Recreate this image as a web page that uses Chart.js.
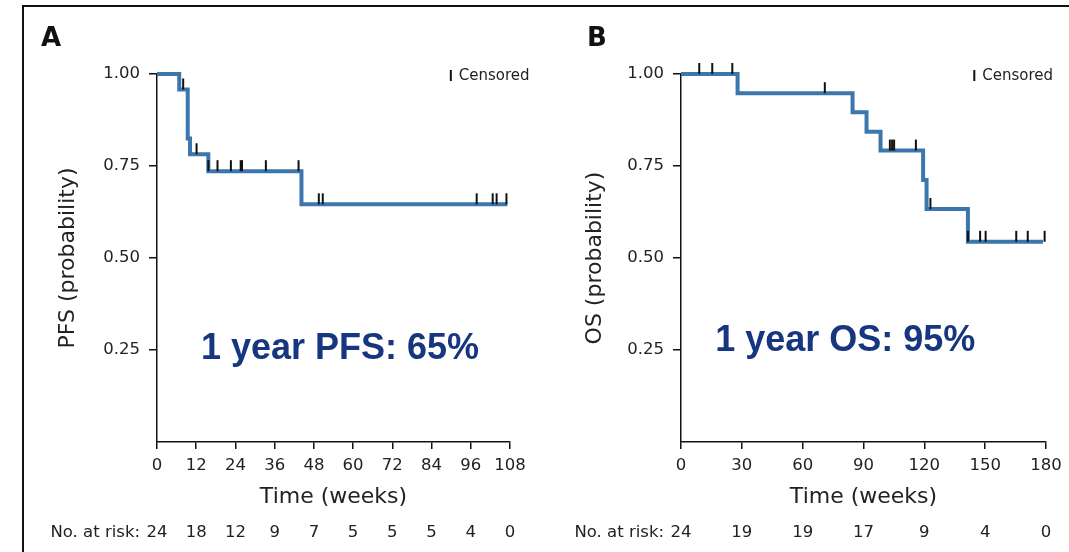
<!DOCTYPE html>
<html>
<head>
<meta charset="utf-8">
<script src="https://cdn.jsdelivr.net/npm/chart.js@4"></script>
<style>
  body { margin: 0; background: #fff; }
  #wrap { position: relative; width: 1069px; height: 552px; overflow: hidden; }
  #frame { position: absolute; left: 22px; top: 5px; width: 1200px; height: 700px;
           border-top: 2px solid #111; border-left: 2px solid #111; }
  canvas { position: absolute; top: 0; }
  #chartA { left: 0; }
  #chartB { left: 545px; }
</style>
</head>
<body>
<div id="wrap">
  <div id="frame"></div>
  <canvas id="chartA" width="545" height="552"></canvas>
  <canvas id="chartB" width="524" height="552"></canvas>
</div>
<script>
// Panel A - progression free survival
const pfsTimes = [0, 6.8, 9.4, 10.1, 15.7, 44.2, 107.2];
const pfsSurv = [1.0, 0.958, 0.825, 0.782, 0.736, 0.646, 0.646];
const pfsCensorTimes = [8.0, 12.1, 15.7, 18.5, 22.6, 25.6, 26.0, 33.3, 43.3, 49.5, 50.7, 97.8, 102.7, 103.9, 106.9];
const pfsCensorSurv = [0.958, 0.782, 0.736, 0.736, 0.736, 0.736, 0.736, 0.736, 0.736, 0.646, 0.646, 0.646, 0.646, 0.646, 0.646];
const pfsTicks = [0, 12, 24, 36, 48, 60, 72, 84, 96, 108];
const pfsAtRisk = [24, 18, 12, 9, 7, 5, 5, 5, 4, 0];

// Panel B - overall survival
const osTimes = [0, 27.9, 84.6, 91.5, 98.4, 119.4, 121.1, 141.5, 178.5];
const osSurv = [1.0, 0.948, 0.896, 0.843, 0.792, 0.712, 0.633, 0.544, 0.544];
const osCensorTimes = [9.0, 15.4, 25.3, 70.9, 103.0, 104.1, 105.1, 115.8, 123.0, 141.5, 147.5, 150.2, 165.3, 171.0, 179.3];
const osCensorSurv = [1.0, 1.0, 1.0, 0.948, 0.792, 0.792, 0.792, 0.792, 0.633, 0.544, 0.544, 0.544, 0.544, 0.544, 0.544];
const osTicks = [0, 30, 60, 90, 120, 150, 180];
const osAtRisk = [24, 19, 19, 17, 9, 4, 0];

const yTicks = [0.25, 0.5, 0.75, 1.0];

const curveColor = '#3b77ad';
const noteColor = '#16377f';
const axisFont = 'DejaVu Sans';

function censorMark() {
    const c = document.createElement('canvas');
    c.width = 4;
    c.height = 24;
    const g = c.getContext('2d');
    g.fillStyle = '#111';
    g.fillRect(1, 1, 2, 11);
    return c;
}

const extras = {
    id: 'extras',
    afterDraw(chart, args, opts) {
        const ctx = chart.ctx;
        const xs = chart.scales.x;
        const ys = chart.scales.y;
        const area = chart.chartArea;
        ctx.save();

        // panel letter
        ctx.fillStyle = '#111';
        ctx.font = 'bold 26px "DejaVu Sans"';
        ctx.textAlign = 'center';
        ctx.textBaseline = 'middle';
        ctx.fillText(opts.letter, opts.letterX, 39);

        // censored legend
        ctx.font = '15px "DejaVu Sans"';
        ctx.textAlign = 'right';
        ctx.fillStyle = '#222';
        ctx.fillText('Censored', xs.getPixelForValue(opts.legendX), area.top + 2);
        const w = ctx.measureText('Censored').width;
        ctx.fillStyle = '#111';
        ctx.fillRect(xs.getPixelForValue(opts.legendX) - w - 9, area.top - 4, 2, 11);

        // 1 year note
        ctx.font = 'bold 36px "Liberation Sans"';
        ctx.fillStyle = noteColor;
        ctx.textAlign = 'center';
        ctx.fillText(opts.note, xs.getPixelForValue(opts.noteX), ys.getPixelForValue(opts.noteY));

        // number at risk
        ctx.font = '16.5px "DejaVu Sans"';
        ctx.fillStyle = '#222';
        ctx.textAlign = 'right';
        ctx.fillText('No. at risk:', area.left - 17, 533);
        ctx.textAlign = 'center';
        opts.riskTimes.forEach((t, i) => {
            ctx.fillText(String(opts.risk[i]), xs.getPixelForValue(t), 533);
        });
        ctx.restore();
    }
};

function makeChart(id, c) {
    const curve = c.times.map((t, i) => ({ x: t, y: c.surv[i] }));
    const censors = c.censorTimes.map((t, i) => ({ x: t, y: c.censorSurv[i] }));
    return new Chart(document.getElementById(id), {
        type: 'scatter',
        data: {
            datasets: [{
                data: censors,
                pointStyle: censorMark(),
                pointRadius: 6,
                showLine: false,
                clip: false,
                order: 0
            }, {
                type: 'line',
                data: curve,
                borderColor: curveColor,
                borderWidth: 4,
                stepped: 'before',
                pointRadius: 0,
                fill: false,
                clip: false,
                order: 1
            }]
        },
        options: {
            responsive: false,
            animation: false,
            devicePixelRatio: 1,
            events: [],
            layout: { padding: { left: 0, top: 74, right: c.padRight, bottom: 0 } },
            plugins: {
                legend: { display: false },
                tooltip: { enabled: false },
                extras: c.extras
            },
            scales: {
                x: {
                    type: 'linear',
                    min: 0,
                    max: c.ticks[c.ticks.length - 1],
                    afterBuildTicks: s => { s.ticks = c.ticks.map(v => ({ value: v })); },
                    afterFit: s => { s.height = 110; },
                    grid: { drawOnChartArea: false, tickLength: 7, color: '#111', lineWidth: 1.5 },
                    border: { color: '#111', width: 1.5 },
                    ticks: { padding: 7, color: '#222', autoSkip: false, maxRotation: 0,
                             font: { family: axisFont, size: 16.5 } },
                    title: { display: true, text: 'Time (weeks)', color: '#222',
                             font: { family: axisFont, size: 22, lineHeight: 1.2 },
                             padding: { top: 0, bottom: 42 } }
                },
                y: {
                    type: 'linear',
                    min: 0,
                    max: 1,
                    afterBuildTicks: s => { s.ticks = yTicks.map(v => ({ value: v })); },
                    afterFit: s => { s.width = c.yWidth; },
                    grid: { drawOnChartArea: false, tickLength: 8, color: '#111', lineWidth: 1.5 },
                    border: { color: '#111', width: 1.5 },
                    ticks: { padding: 9, color: '#222', font: { family: axisFont, size: 16.5 },
                             callback: v => v.toFixed(2) },
                    title: { display: true, text: c.yTitle, color: '#222',
                             font: { family: axisFont, size: 22, lineHeight: 1.2 },
                             padding: { top: c.yTitlePad, bottom: 0 } }
                }
            }
        },
        plugins: [extras]
    });
}

makeChart('chartA', {
    times: pfsTimes, surv: pfsSurv,
    censorTimes: pfsCensorTimes, censorSurv: pfsCensorSurv,
    ticks: pfsTicks, yTitle: 'PFS (probability)',
    yWidth: 157, padRight: 35, yTitlePad: 55,
    extras: { letter: 'A', letterX: 51, legendX: 114, note: '1 year PFS: 65%', noteX: 56, noteY: 0.253,
              riskTimes: pfsTicks, risk: pfsAtRisk }
});

makeChart('chartB', {
    times: osTimes, surv: osSurv,
    censorTimes: osCensorTimes, censorSurv: osCensorSurv,
    ticks: osTicks, yTitle: 'OS (probability)',
    yWidth: 136, padRight: 23, yTitlePad: 37,
    extras: { letter: 'B', letterX: 52, legendX: 183.5, note: '1 year OS: 95%', noteX: 81, noteY: 0.275,
              riskTimes: osTicks, risk: osAtRisk }
});
</script>
</body>
</html>
